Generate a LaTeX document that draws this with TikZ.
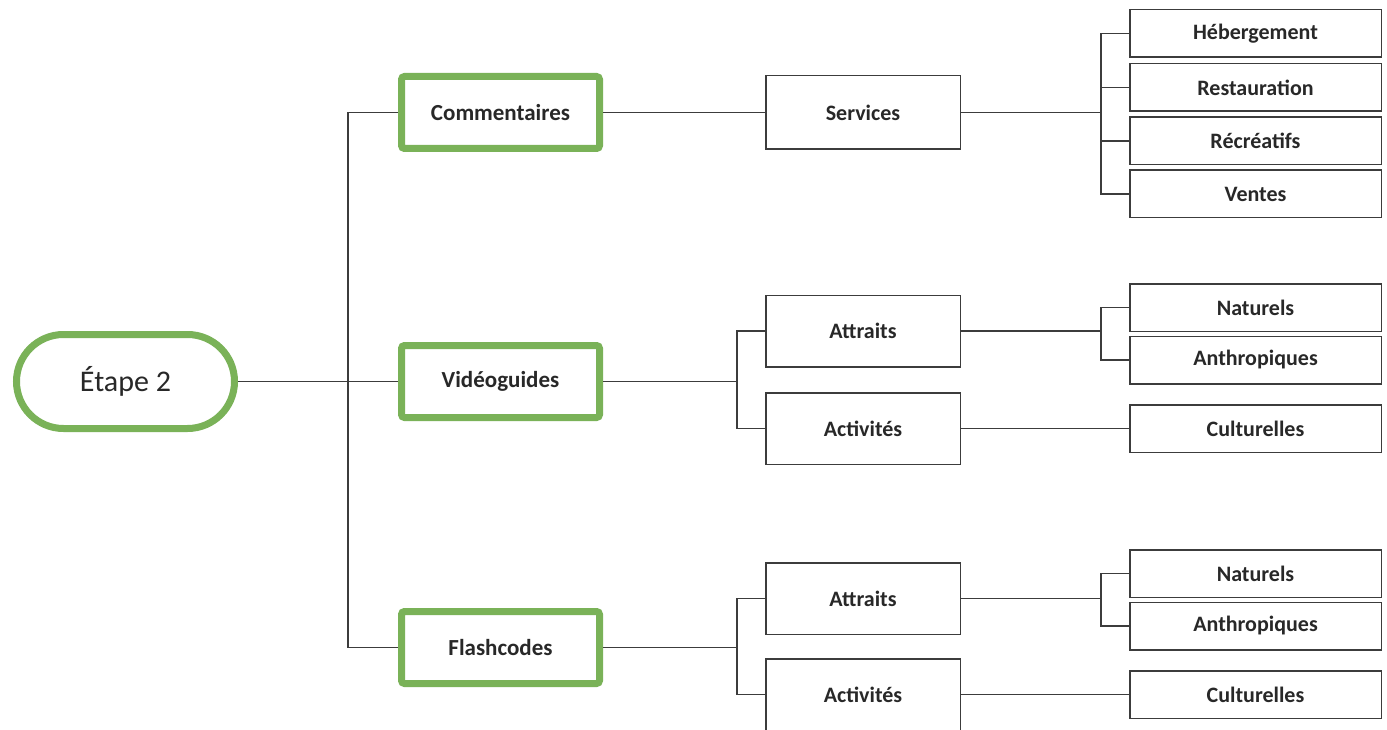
\documentclass[tikz,border=0pt]{standalone}
\usepackage{fontspec}
\setmainfont{Carlito}
\definecolor{leaf}{RGB}{122,178,88}
\definecolor{ink}{RGB}{40,40,40}
\definecolor{wire}{RGB}{60,60,60}
\tikzset{
  lvl/.style={draw=leaf, line width=7pt, fill=white, rounded corners=3pt,
    minimum width=198pt, minimum height=72pt, inner sep=0pt, text=ink,
    font=\fontsize{23}{26}\selectfont\bfseries},
  midbox/.style={draw=wire, line width=1.5pt, fill=white, minimum width=194.5pt,
    minimum height=71.5pt, inner sep=0pt, text=ink,
    font=\fontsize{22}{26}\selectfont\bfseries},
  leafbox/.style={draw=wire, line width=1.5pt, fill=white, minimum width=251.5pt,
    minimum height=47.5pt, inner sep=0pt, text=ink,
    font=\fontsize{22}{26}\selectfont\bfseries},
  rootbox/.style={draw=leaf, line width=7pt, fill=white, rounded corners=47pt,
    minimum width=218pt, minimum height=94pt, inner sep=0pt, text=ink,
    font=\fontsize{30}{34}\selectfont},
  wireline/.style={draw=wire, line width=1.3pt},
}
\begin{document}
\begin{tikzpicture}[x=1pt,y=-1pt]
\useasboundingbox[fill=white] (0,0) rectangle (1387,730);

% root
\node[rootbox] (eta) at (125.5,381.5) {Étape 2};

% first level
\node[lvl] (com) at (500.5,112.5) {Commentaires};
\node[lvl] (vid) at (500.5,381.5) {Vidéoguides};
\node[lvl] (fla) at (500.5,647.5) {Flashcodes};

% second level
\node[midbox, minimum height=73.5pt] (ser) at (863,112.5) {Services};
\node[midbox] (atA) at (863,331) {Attraits};
\node[midbox] (acA) at (863,428.5) {Activités};
\node[midbox] (atB) at (863,598.5) {Attraits};
\node[midbox] (acB) at (863,694.5) {Activités};

% third level
\node[leafbox] (heb) at (1255.5,33.5) {Hébergement};
\node[leafbox] (res) at (1255.5,87.5) {Restauration};
\node[leafbox] (rec) at (1255.5,141) {Récréatifs};
\node[leafbox] (ven) at (1255.5,194) {Ventes};
\node[leafbox] (naA) at (1255.5,307.5) {Naturels};
\node[leafbox] (anA) at (1255.5,360) {Anthropiques};
\node[leafbox] (cuA) at (1255.5,428.5) {Culturelles};
\node[leafbox] (naB) at (1255.5,573.5) {Naturels};
\node[leafbox] (anB) at (1255.5,626) {Anthropiques};
\node[leafbox] (cuB) at (1255.5,694.5) {Culturelles};

% junction points
\coordinate (trunk) at (348,381.5);
\coordinate (jS) at (1101,112.5);
\coordinate (jV) at (737,381.5);
\coordinate (jF) at (737,647.5);
\coordinate (jA) at (1101,331);
\coordinate (jB) at (1101,598.5);

% root to first level
\draw[wireline] (eta.east) -- (vid.west);
\draw[wireline] (com.west) -| (trunk) |- (fla.west);

% Commentaires branch
\draw[wireline] (com.east) -- (ser.west);
\draw[wireline] (ser.east) -- (jS);
\draw[wireline] (heb.west) -| (jS) |- (ven.west);
\draw[wireline] (jS |- res.west) -- (res.west);
\draw[wireline] (jS |- rec.west) -- (rec.west);

% Vidéoguides branch
\draw[wireline] (vid.east) -- (jV);
\draw[wireline] (atA.west) -| (jV) |- (acA.west);
\draw[wireline] (atA.east) -- (jA);
\draw[wireline] (naA.west) -| (jA) |- (anA.west);
\draw[wireline] (acA.east) -- (cuA.west);

% Flashcodes branch
\draw[wireline] (fla.east) -- (jF);
\draw[wireline] (atB.west) -| (jF) |- (acB.west);
\draw[wireline] (atB.east) -- (jB);
\draw[wireline] (naB.west) -| (jB) |- (anB.west);
\draw[wireline] (acB.east) -- (cuB.west);
\end{tikzpicture}
\end{document}
